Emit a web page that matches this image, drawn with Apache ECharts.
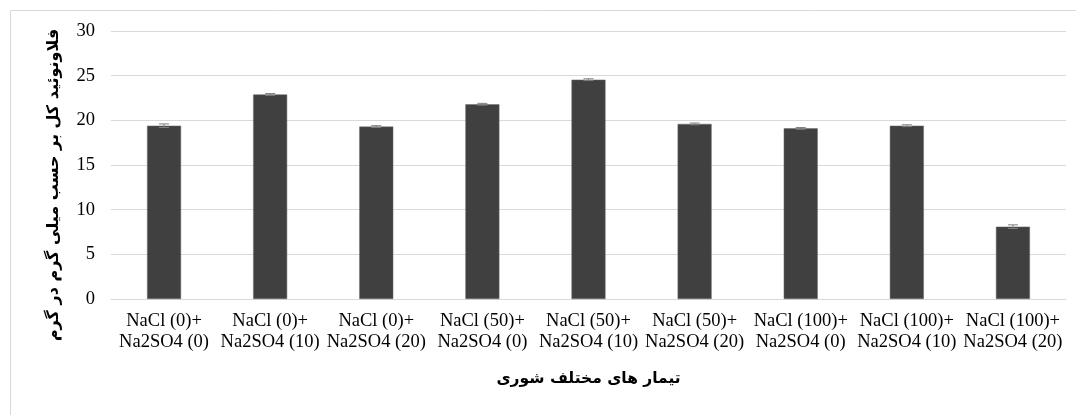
<!DOCTYPE html>
<html><head><meta charset="utf-8">
<script src="https://cdn.jsdelivr.net/npm/echarts@6/dist/echarts.min.js"></script>
<style>html,body{margin:0;padding:0;background:#fff}#c{width:1076px;height:415px}</style>
</head><body><div id="c"></div>
<script>
const categories = ['NaCl (0)+\nNa2SO4 (0)','NaCl (0)+\nNa2SO4 (10)','NaCl (0)+\nNa2SO4 (20)','NaCl (50)+\nNa2SO4 (0)','NaCl (50)+\nNa2SO4 (10)','NaCl (50)+\nNa2SO4 (20)','NaCl (100)+\nNa2SO4 (0)','NaCl (100)+\nNa2SO4 (10)','NaCl (100)+\nNa2SO4 (20)'];
const values = [19.4, 22.9, 19.3, 21.8, 24.55, 19.6, 19.1, 19.4, 8.1];
const errors = [0.2, 0.1, 0.1, 0.1, 0.1, 0.1, 0.1, 0.1, 0.2];
const yTitle = 'فلاونوئید کل بر حسب میلی گرم در گرم';
const xTitle = 'تیمار های مختلف شوری';

const chart = echarts.init(document.getElementById('c'));
chart.setOption({
  animation:false,
  backgroundColor:'#fff',
  graphic:[{type:'rect',shape:{x:10.5,y:10.5,width:1100,height:500},style:{fill:'none',stroke:'#d9d9d9',lineWidth:1},silent:true}],
  grid:{left:111,right:10,top:31,bottom:116},
  xAxis:{type:'category',data:categories,
    axisLine:{lineStyle:{color:'#d9d9d9'}},axisTick:{show:false},
    axisLabel:{color:'#000',fontFamily:'Liberation Serif',fontSize:18.5,lineHeight:21,margin:12,interval:0},
    name:xTitle,nameLocation:'middle',nameGap:72,
    nameTextStyle:{color:'#000',fontFamily:'DejaVu Sans',fontWeight:'bold',fontSize:15.5}},
  yAxis:{type:'value',min:0,max:30,interval:5,
    axisLine:{show:false},axisTick:{show:false},
    splitLine:{lineStyle:{color:'#d9d9d9'}},
    axisLabel:{color:'#000',fontFamily:'Liberation Serif',fontSize:18.5,margin:16},
    name:yTitle,nameLocation:'middle',nameGap:49,nameRotate:90,
    nameTextStyle:{color:'#000',fontFamily:'DejaVu Sans',fontWeight:'bold',fontSize:16,padding:[0,40,0,0]}},
  series:[
    {type:'bar',data:values,barWidth:34,itemStyle:{color:'#404040',borderColor:'#6a6a6a',borderWidth:0.5}},
    {type:'custom',data:values.map((v,i)=>[i,v-errors[i],v+errors[i]]),z:5,
      renderItem:(params,api)=>{
        const x=api.coord([api.value(0),api.value(1)])[0];
        const lo=api.coord([api.value(0),api.value(1)])[1];
        const hi=api.coord([api.value(0),api.value(2)])[1];
        const st={stroke:'#7f7f7f',lineWidth:1};
        return {type:'group',children:[
          {type:'line',shape:{x1:x,y1:lo,x2:x,y2:hi},style:st},
          {type:'line',shape:{x1:x-5,y1:hi,x2:x+5,y2:hi},style:st},
          {type:'line',shape:{x1:x-5,y1:lo,x2:x+5,y2:lo},style:st}
        ]};
      }}
  ]
});
</script></body></html>
